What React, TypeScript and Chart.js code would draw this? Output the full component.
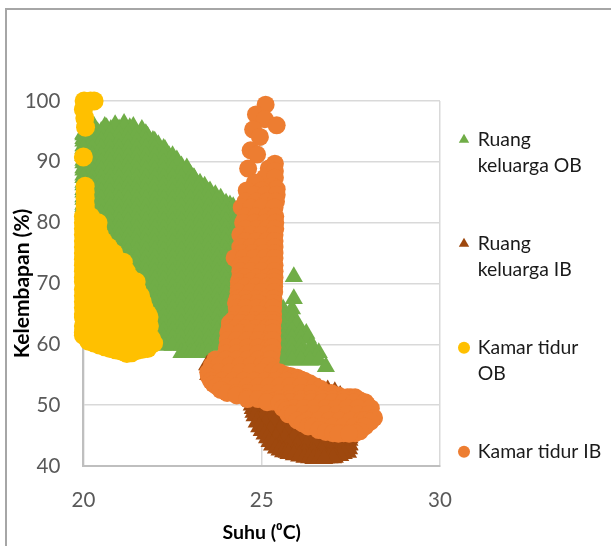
import React, { useEffect, useRef } from "react";
import { Chart, registerables } from "chart.js";

Chart.register(...registerables);

const seriesNames: (string | string[])[] = [["Ruang", "keluarga OB"], ["Ruang", "keluarga IB"], ["Kamar tidur", "OB"], "Kamar tidur IB"];
const xTitle = "Suhu (⁰C)";
const yTitle = "Kelembapan (%)";
const xTicks = [20, 25, 30];
const yTicks = [40, 50, 60, 70, 80, 90, 100];

// each row: humidity, then the temperatures read at that humidity
const ruangOB: [number, number[]][] = [
  [96.3, [21.14]], [96.1, [20.89]], [95.6, [20.27, 20.65, 21.3]], [95.4, [21]], [95.3, [20.77, 21.64]], [95.2, [20.1]], [95, [20.5, 21.45]],
  [94.9, [20.4]], [94.4, [20]], [94.2, [21.8]], [93.8, [20]], [93.5, [21.95]], [92.8, [22.1]], [92.6, [20]], [92, [22.29]], [91.4, [20]],
  [91, [22.4]], [90.4, [22.5]], [90.3, [22.62]], [90.2, [20]], [89.3, [22.75]], [89, [22.9, 20]], [87.9, [23]], [87.8, [20]], [87.3, [23.1]],
  [86.6, [20]], [86.5, [23.27]], [86, [23.4]], [85.4, [20]], [85.2, [23.55]], [84.6, [23.7]], [84.2, [20]], [84, [23.85]], [83.2, [24]], [83, [20]], [82.9, [24.11]],
  [95.8, [20.3, 20.6, 20.9, 21.15, 21.4]],
  [94.6, [20, 20.25, 20.5, 20.75, 21, 21.25, 21.5, 21.75]],
  [93.4, [20, 20.25, 20.5, 20.75, 21, 21.25, 21.5, 21.75, 22]],
  [92.2, [20, 20.25, 20.5, 20.75, 21, 21.25, 21.5, 21.75, 22, 22.25]],
  [91, [20, 20.25, 20.5, 20.75, 21, 21.25, 21.5, 21.75, 22, 22.25, 22.5]],
  [89.8, [20, 20.25, 20.5, 20.75, 21, 21.25, 21.5, 21.75, 22, 22.25, 22.5, 22.65]],
  [88.6, [20, 20.25, 20.5, 20.75, 21, 21.25, 21.5, 21.75, 22, 22.25, 22.5, 22.75, 22.9]],
  [87.4, [20, 20.25, 20.5, 20.75, 21, 21.25, 21.5, 21.75, 22, 22.25, 22.5, 22.75, 23, 23.1]],
  [86.2, [20, 20.25, 20.5, 20.75, 21, 21.25, 21.5, 21.75, 22, 22.25, 22.5, 22.75, 23, 23.25]],
  [85, [20, 20.25, 20.5, 20.75, 21, 21.25, 21.5, 21.75, 22, 22.25, 22.5, 22.75, 23, 23.25, 23.5]],
  [83.8, [20, 20.25, 20.5, 20.75, 21, 21.25, 21.5, 21.75, 22, 22.25, 22.5, 22.75, 23, 23.25, 23.5, 23.75]],
  [82.6, [20, 20.25, 20.5, 20.75, 21, 21.25, 21.5, 21.75, 22, 22.25, 22.5, 22.75, 23, 23.25, 23.5, 23.75, 24, 24.2]],
  [81.4, [20, 20.25, 20.5, 20.75, 21, 21.25, 21.5, 21.75, 22, 22.25, 22.5, 22.75, 23, 23.25, 23.5, 23.75, 24, 24.25, 24.5]],
  [80.2, [20.25, 20.5, 20.75, 21, 21.25, 21.5, 21.75, 22, 22.25, 22.5, 22.75, 23, 23.25, 23.5, 23.75, 24, 24.25, 24.5]],
  [79, [20.25, 20.5, 20.75, 21, 21.25, 21.5, 21.75, 22, 22.25, 22.5, 22.75, 23, 23.25, 23.5, 23.75, 24, 24.25, 24.5]],
  [77.8, [20.5, 20.75, 21, 21.25, 21.5, 21.75, 22, 22.25, 22.5, 22.75, 23, 23.25, 23.5, 23.75, 24, 24.25, 24.5]],
  [76.6, [20.5, 20.75, 21, 21.25, 21.5, 21.75, 22, 22.25, 22.5, 22.75, 23, 23.25, 23.5, 23.75, 24, 24.25, 24.5]],
  [75.4, [20.75, 21, 21.25, 21.5, 21.75, 22, 22.25, 22.5, 22.75, 23, 23.25, 23.5, 23.75, 24, 24.25, 24.5]],
  [74.2, [20.75, 21, 21.25, 21.5, 21.75, 22, 22.25, 22.5, 22.75, 23, 23.25, 23.5, 23.75, 24, 24.25, 24.5]],
  [73, [21, 21.25, 21.5, 21.75, 22, 22.25, 22.5, 22.75, 23, 23.25, 23.5, 23.75, 24, 24.25, 24.5]],
  [71.8, [21, 21.25, 21.5, 21.75, 22, 22.25, 22.5, 22.75, 23, 23.25, 23.5, 23.75, 24, 24.25, 24.5]],
  [71.1, [25.9]],
  [70.6, [21.25, 21.5, 21.75, 22, 22.25, 22.5, 22.75, 23, 23.25, 23.5, 23.75, 24, 24.25, 24.5]],
  [69.4, [21.25, 21.5, 21.75, 22, 22.25, 22.5, 22.75, 23, 23.25, 23.5, 23.75, 24, 24.25, 24.5]],
  [68.2, [21.5, 21.75, 22, 22.25, 22.5, 22.75, 23, 23.25, 23.5, 23.75, 24, 24.25, 24.5]],
  [67.5, [25.9]],
  [67, [21.5, 21.75, 22, 22.25, 22.5, 22.75, 23, 23.25, 23.5, 23.75, 24, 24.25, 24.5]],
  [65.8, [21.5, 21.75, 22, 22.25, 22.5, 22.75, 23, 23.25, 23.5, 23.75, 24, 24.25, 24.5, 25.6, 25.85]],
  [64.6, [21.75, 22, 22.25, 22.5, 22.75, 23, 23.25, 23.5, 23.75, 24, 24.25, 24.5, 25.6, 25.85]],
  [63.4, [21.75, 22, 22.25, 22.5, 22.75, 23, 23.25, 23.5, 23.75, 24, 24.25, 25.6, 25.85, 26]],
  [62.2, [22, 22.25, 22.5, 22.75, 23, 23.25, 23.5, 23.75, 24, 24.25, 25.6, 25.85, 26.1]],
  [61.8, [26.25]],
  [61, [22, 22.25, 22.5, 22.75, 23, 23.25, 23.5, 23.75, 24, 25.6, 25.85, 26.1, 26.3]],
  [59.8, [22.25, 22.5, 22.75, 23, 23.25, 23.5, 23.75, 24, 25.6, 25.85, 26.1, 26.4]],
  [58.6, [22.75, 22.85, 23, 23.1, 23.25, 23.35, 23.5, 25.6, 25.85, 26.1, 26.35, 26.6]],
  [57.4, [25.6, 25.85, 26.1, 26.35, 26.6]],
  [56.3, [26.8]],
];

const ruangIB: [number, number[]][] = [
  [56.6, [23.47]],
  [55, [23.5]],
  [52.8, [26.63]],
  [52.5, [26.85]],
  [52.2, [27.05]],
  [51.6, [27.2]],
  [51.2, [24.69]],
  [51, [27.45]],
  [50.6, [24.7, 24.95]],
  [50, [24.72]],
  [49.4, [24.75, 25, 25.25]],
  [48.8, [24.77]],
  [48.2, [24.8, 25.05, 25.3, 25.55]],
  [47.2, [24.86]],
  [47, [25.1, 25.35, 25.6, 25.85, 26.1]],
  [46.4, [24.93]],
  [45.8, [25, 25.25, 25.5, 25.75, 26, 26.25, 26.5, 26.75, 27]],
  [45.2, [25.08]],
  [44.6, [25.15, 25.4, 25.65, 25.9, 26.15, 26.4, 26.65, 26.9, 27.15, 27.46]],
  [44.2, [27.46]],
  [44, [25.22]],
  [43.5, [27.46]],
  [43.4, [25.29, 25.5, 25.75, 26, 26.25, 26.5, 26.75, 27, 27.25, 27.46]],
  [42.9, [25.4]],
  [42.8, [27.45]],
  [42.6, [25.5]],
  [42.3, [25.6]],
  [42.2, [25.7, 25.95, 26.2, 26.45, 26.7, 26.95, 27.2, 27.42]],
  [42, [25.75, 27.3]],
  [41.8, [25.9]],
  [41.7, [27.2]],
  [41.6, [26.05]],
  [41.4, [26.2, 27.05]],
  [41.3, [26.33, 26.55, 26.8, 26.9, 27]],
  [41.2, [26.45, 26.6, 26.75]],
];

const kamarOB: [number, number[]][] = [
  [100, [20.02, 20.2, 20.3]],
  [99.8, [20.1]],
  [98.6, [20]],
  [97.2, [20.04]],
  [95.7, [20.06]],
  [90.8, [20]],
  [86, [20.05]],
  [85, [20.05]],
  [84, [20.05]],
  [83, [20.05]],
  [82.5, [20.05]],
  [81, [20, 20.2]],
  [80, [20, 20.3, 20.41]],
  [79, [20, 20.2, 20.4]],
  [78, [20, 20.3, 20.45]],
  [77, [20, 20.3, 20.55]],
  [76, [20, 20.3, 20.6, 20.7]],
  [75, [20, 20.3, 20.6, 20.85]],
  [74, [20, 20.3, 20.6, 20.9]],
  [73.5, [21.12]],
  [73, [20, 20.3, 20.6, 20.9, 21.1]],
  [72, [20, 20.3, 20.6, 20.9, 21.2]],
  [71, [20, 20.3, 20.6, 20.9, 21.2, 21.3]],
  [70.3, [20, 20.3, 20.6, 20.9, 21.2, 21.48]],
  [69, [20, 20.3, 20.6, 20.9, 21.2, 21.5]],
  [68, [20, 20.3, 20.6, 20.9, 21.2, 21.5, 21.6]],
  [67, [20, 20.3, 20.6, 20.9, 21.2, 21.5, 21.65]],
  [66, [20, 20.3, 20.6, 20.9, 21.2, 21.5, 21.7]],
  [65, [20, 20.3, 20.6, 20.9, 21.2, 21.5, 21.8]],
  [64.5, [20, 20.3, 20.6, 20.9, 21.2, 21.5, 21.84]],
  [63, [20, 20.3, 20.6, 20.9, 21.2, 21.5, 21.85]],
  [62, [20, 20.3, 20.6, 20.9, 21.2, 21.5, 21.8]],
  [61.5, [20]],
  [61, [20.2, 20.5, 20.8, 21.1, 21.4, 21.7, 21.9]],
  [60.5, [20.15]],
  [60.2, [20.3, 20.6, 20.9, 21.2, 21.5, 21.97]],
  [59.9, [20.45]],
  [59.6, [20.6]],
  [59.3, [20.75, 21.8]],
  [59.2, [21.65]],
  [59.1, [20.9]],
  [59, [21, 21.5]],
  [58.8, [21.1]],
  [58.6, [21.35]],
  [58.5, [21.22]],
];

const kamarIB: [number, number[]][] = [
  [99.4, [25.11]],
  [97.8, [24.84]],
  [97, [25.09]],
  [96, [25.42]],
  [95.3, [24.76]],
  [94.1, [24.95]],
  [91.9, [24.69]],
  [91.2, [24.87]],
  [89.7, [25.37]],
  [88.9, [24.62, 25.2]],
  [88.5, [25.37]],
  [87.4, [25.09, 25.37]],
  [86.6, [24.81]],
  [86, [25.3]],
  [85.5, [25.42]],
  [85.3, [24.58, 25]],
  [84.6, [24.8, 25.1, 25.42]],
  [83.5, [24.55, 24.85, 25.15, 25.4]],
  [82.5, [24.44, 24.7, 25, 25.36]],
  [81, [24.55, 24.85, 25.15, 25.38]],
  [80, [24.48, 24.8, 25.1, 25.38]],
  [79, [24.55, 24.85, 25.15, 25.38]],
  [78, [24.4, 24.7, 25, 25.36]],
  [77, [24.55, 24.85, 25.15, 25.36]],
  [76, [24.4, 24.7, 25, 25.36]],
  [75, [24.45, 24.75, 25.05, 25.36]],
  [74.2, [24.24, 24.5, 24.8, 25.1, 25.36]],
  [73, [24.4, 24.55, 24.85, 25.15, 25.36]],
  [72, [24.4, 24.7, 25, 25.36]],
  [71, [24.4, 24.55, 24.85, 25.15, 25.36]],
  [70.3, [24.36, 24.7, 25, 25.35]],
  [69.5, [24.36, 24.55, 24.85, 25.15, 25.35]],
  [68.6, [24.35, 24.7, 25, 25.35]],
  [67.5, [24.32, 24.55, 24.85, 25.15, 25.33]],
  [66.8, [24.28, 24.6, 24.9, 25.32]],
  [66, [24.3, 24.55, 24.85, 25.15, 25.32]],
  [65, [24.3, 24.6, 24.9, 25.32]],
  [64, [24.2, 24.5, 24.8, 25.1, 25.32]],
  [63.5, [24.11, 24.4, 24.7, 25, 25.3]],
  [62.7, [24.1, 24.3, 24.55, 24.85, 25.15, 25.3]],
  [61.9, [24.06, 24.4, 24.7, 25, 25.3]],
  [60.7, [24.05, 24.3, 24.6, 24.9, 25.2, 25.3]],
  [59.5, [24.03, 24.3, 24.6, 24.9, 25.2, 25.3]],
  [58.5, [24, 24.3, 24.6, 24.9, 25.2, 25.28]],
  [57.5, [23.7, 24, 24.3, 24.6, 24.9, 25.2, 25.26]],
  [56.5, [23.6, 23.8, 24.1, 24.4, 24.7, 25, 25.2]],
  [55.7, [25.35]],
  [55.4, [23.5, 23.8, 24.1, 24.4, 24.7, 25, 25.3, 25.5]],
  [55, [25.65]],
  [54.8, [25.8]],
  [54.7, [23.52]],
  [54.6, [25.9]],
  [54.5, [26]],
  [54.2, [26.1]],
  [54, [23.58, 23.9, 24.2, 24.5, 24.8, 25.1, 25.4, 25.7, 26, 26.2]],
  [53.6, [26.35]],
  [53.5, [23.65]],
  [53.1, [23.75, 24, 24.3, 24.6, 24.9, 25.2, 25.5, 25.8, 26.1, 26.5]],
  [52.7, [26.65]],
  [52.5, [23.85]],
  [52, [24.03, 24.3, 24.6, 24.9, 25.2, 25.5, 25.8, 26.1, 26.4, 26.8, 26.95]],
  [51.6, [24.3, 27.15]],
  [51.3, [24.6, 27.4, 27.5, 27.62]],
  [51, [24.6, 24.9, 25.2, 25.5, 25.8, 26.1, 26.4, 26.7, 27, 27.3, 27.6]],
  [50.8, [27.75]],
  [50.6, [25.3]],
  [50.5, [25.15, 25.5, 25.8, 26.1, 26.4, 26.7, 27, 27.3, 27.6, 27.9]],
  [50.3, [25.5]],
  [50.1, [27.95]],
  [49.5, [25.6, 25.9, 26.2, 26.5, 26.8, 27.1, 27.4, 27.7, 28.06]],
  [49.2, [25.7]],
  [48.6, [25.8]],
  [48.5, [25.75, 25.88, 26.2, 26.5, 26.8, 27.1, 27.4, 27.7, 28]],
  [47.9, [28.15]],
  [47.5, [26, 26.3, 26.6, 26.9, 27.2, 27.5, 27.8, 27.9]],
  [47.3, [28.05]],
  [47, [26.15]],
  [46.5, [26.3, 26.44, 26.7, 27, 27.3, 27.6, 27.85, 27.9]],
  [45.9, [26.6]],
  [45.7, [27.75]],
  [45.6, [26.8]],
  [45.4, [27, 27.3, 27.62]],
  [45.3, [27.15, 27.45]],
];

const toPoints = (rows: [number, number[]][]) =>
  rows.flatMap(([h, ts]) => ts.map((t) => ({ x: t, y: h })));

const legendPlacer = {
  id: "legendPlacer",
  afterLayout(chart: any) {
    const l = chart.legend;
    if (!l) return;
    l.left = 408;
    l.right = 611;
    l.top = 78;
    l.bottom = 900;
  },
};

export default function App() {
  const ref = useRef<HTMLCanvasElement>(null);
  useEffect(() => {
    const font = "Lato";
    const chart = new Chart(ref.current!, {
      type: "scatter",
      data: {
        datasets: [
          { label: seriesNames[0] as any, data: toPoints(ruangOB), pointStyle: "triangle", pointRadius: 10.5, borderWidth: 0, backgroundColor: "#70ad47", borderColor: "#70ad47", order: 4, clip: false },
          { label: seriesNames[1] as any, data: toPoints(ruangIB), pointStyle: "triangle", pointRadius: 10.5, borderWidth: 0, backgroundColor: "#9e480e", borderColor: "#9e480e", order: 3, clip: false },
          { label: seriesNames[2] as any, data: toPoints(kamarOB), pointStyle: "circle", pointRadius: 9.5, borderWidth: 0, backgroundColor: "#ffc000", borderColor: "#ffc000", order: 2, clip: false },
          { label: seriesNames[3] as any, data: toPoints(kamarIB), pointStyle: "circle", pointRadius: 9, borderWidth: 0, backgroundColor: "#ed7d31", borderColor: "#ed7d31", order: 1, clip: false },
        ],
      },
      options: {
        animation: false,
        responsive: false,
        layout: { padding: { left: 0, right: 0, top: 101, bottom: 0 } },
        plugins: {
          tooltip: { enabled: false },
          legend: {
            position: "right",
            align: "start",
            maxWidth: 171,
            labels: {
              usePointStyle: true,
              boxWidth: 8,
              boxHeight: 8.5,
              padding: 52,
              color: "#1a1a1a",
              sort: (a: any, b: any) => a.datasetIndex - b.datasetIndex,
              font: { family: font, size: 19.4, lineHeight: 1.34 },
            },
          },
        },
        scales: {
          x: {
            type: "linear",
            min: 20,
            max: 30,
            afterFit: (s: any) => { s.height = 80; },
            afterBuildTicks: (s: any) => { s.ticks = xTicks.map((v) => ({ value: v })); },
            ticks: { color: "#595959", padding: 22, font: { family: font, size: 20.5 } },
            grid: { color: "#d9d9d9", lineWidth: 1.5, drawTicks: false },
            border: { color: "#bfbfbf", width: 2 },
            title: { display: true, text: xTitle, color: "#000", font: { family: font, size: 19.5, weight: "bold" }, padding: { top: 0, bottom: 2 } },
          },
          y: {
            type: "linear",
            min: 40,
            max: 100,
            afterFit: (s: any) => { s.width = 83.4; },
            afterBuildTicks: (s: any) => { s.ticks = yTicks.map((v) => ({ value: v })); },
            ticks: { color: "#595959", padding: 23, font: { family: font, size: 20.5 } },
            grid: { color: "#d9d9d9", lineWidth: 1.5, drawTicks: false },
            border: { color: "#bfbfbf", width: 2 },
            title: { display: true, text: yTitle, color: "#000", font: { family: font, size: 21, weight: "bold" }, padding: { top: 10, bottom: 0 } },
          },
        },
      },
      plugins: [legendPlacer],
    } as any);
    return () => chart.destroy();
  }, []);
  return (
    <div style={{ position: "absolute", left: 0, top: 0, width: 611, height: 546, overflow: "hidden", background: "#fff" }}>
      <div style={{ position: "absolute", left: 5, top: 8, width: 700, height: 700, borderLeft: "2px solid #a6a6a6", borderTop: "2px solid #a6a6a6" }} />
      <canvas ref={ref} width={611} height={546} style={{ position: "absolute", left: 0, top: 0 }} />
    </div>
  );
}
